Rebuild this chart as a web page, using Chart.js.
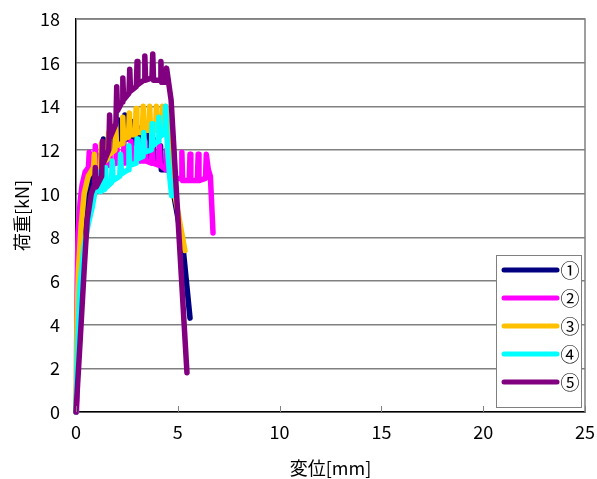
<!DOCTYPE html>
<html>
<head>
<meta charset="utf-8">
<script src="https://cdn.jsdelivr.net/npm/chart.js@4.4.1/dist/chart.umd.min.js"></script>
<style>
  html, body { margin: 0; padding: 0; background: #fff; }
  #wrap { width: 597px; height: 479px; position: relative; }
</style>
</head>
<body>
<div id="wrap"><canvas id="chart"></canvas></div>
<script>
// ---- data (displacement mm / load kN) ----
const seriesNames = ['①', '②', '③', '④', '⑤'];
const seriesColors = ['#000080', '#FF00FF', '#FFC000', '#00FFFF', '#800080'];

// ① navy
const disp1 = [0, 0.1, 0.2, 0.3, 0.45, 0.6, 0.8, 0.96,
  1.0, 1.04, 1.31, 1.35, 1.39, 1.66, 1.7, 1.74, 2.01, 2.05, 2.09, 2.36, 2.4, 2.44, 2.71, 2.75, 2.79, 3.06,
  3.1, 3.14, 3.41, 3.45, 3.49, 3.76, 3.8, 3.84, 4.11, 4.15, 4.19, 4.41, 4.45, 4.6, 5.25, 5.6];
const load1 = [0, 2.5, 5, 7, 8.8, 9.9, 10.7, 11.1,
  11.8, 10.9, 11.2, 12.5, 11.5, 11.8, 13.0, 12.0, 12.3, 13.4, 12.4, 12.6, 13.6, 12.5, 12.5, 13.3, 12.3, 12.3,
  13.0, 12.0, 12.0, 12.8, 11.7, 11.7, 12.5, 11.4, 11.4, 12.2, 11.1, 11.1, 11.5, 11.0, 7.6, 4.3];

// ② magenta
const disp2 = [0, 0.03, 0.06, 0.1, 0.2, 0.3, 0.45, 0.61,
  0.65, 0.69, 0.91, 0.95, 0.99, 1.26, 1.3, 1.34, 1.61, 1.65, 1.69, 1.96, 2.0, 2.04, 2.31, 2.35, 2.39, 2.66,
  2.7, 2.74, 3.01, 3.05, 3.09, 3.36, 3.4, 3.44, 3.71, 3.75, 3.79, 4.06, 4.1, 4.14, 4.41, 4.45, 4.49, 4.76,
  4.8, 4.84, 5.16, 5.2, 5.24, 5.56, 5.6, 5.64, 5.96, 6.0, 6.04, 6.36, 6.4, 6.5, 6.6, 6.73];
const load2 = [0, 3, 6, 8.2, 9.6, 10.4, 11.0, 11.2,
  11.9, 11.0, 11.2, 12.2, 11.2, 11.3, 12.2, 11.3, 11.3, 12.3, 11.3, 11.4, 12.3, 11.4, 11.4, 12.4, 11.4, 11.5,
  12.4, 11.5, 11.5, 12.4, 11.5, 11.5, 12.4, 11.5, 11.4, 12.3, 11.4, 11.3, 12.2, 11.3, 11.1, 12.0, 11.1, 10.8,
  11.9, 10.7, 10.7, 11.9, 10.6, 10.6, 11.8, 10.6, 10.6, 11.8, 10.6, 10.7, 11.8, 11.1, 10.8, 8.2];

// ③ orange
const disp3 = [0, 0.05, 0.12, 0.25, 0.4, 0.6, 0.86,
  0.9, 0.94, 1.21, 1.25, 1.29, 1.56, 1.6, 1.64, 1.91, 1.95, 1.99, 2.26, 2.3, 2.34, 2.58, 2.62, 2.66, 2.91,
  2.95, 2.99, 3.26, 3.3, 3.34, 3.58, 3.62, 3.66, 3.91, 3.95, 3.99, 4.21, 4.25, 4.29, 4.38, 4.42, 4.55, 4.65, 5.0, 5.35];
const load3 = [0, 4, 6.5, 8.5, 10.0, 10.8, 11.2,
  11.8, 10.9, 11.2, 12.3, 11.4, 11.6, 12.8, 11.8, 12.0, 13.2, 12.2, 12.3, 13.5, 12.5, 12.6, 13.7, 12.7, 12.7,
  13.9, 12.8, 12.8, 14.0, 12.9, 12.9, 14.0, 12.9, 12.9, 14.0, 12.9, 12.9, 14.0, 12.9, 13.0, 14.0, 12.5, 11.0, 9.2, 7.4];

// ④ cyan
const disp4 = [0, 0.08, 0.2, 0.4, 0.6, 0.8, 0.95, 1.11,
  1.15, 1.19, 1.41, 1.45, 1.49, 1.74, 1.78, 1.82, 2.15, 2.19, 2.23, 2.56, 2.6, 2.64, 2.96, 3.0, 3.04, 3.29,
  3.33, 3.37, 3.7, 3.74, 3.78, 4.03, 4.07, 4.11, 4.36, 4.4, 4.5, 4.6, 4.7];
const load4 = [0, 3, 5.8, 7.6, 8.6, 9.4, 10.2, 10.6,
  11.0, 10.1, 10.2, 11.2, 10.3, 10.5, 11.5, 10.6, 10.8, 11.8, 10.9, 11.1, 12.2, 11.3, 11.4, 12.5, 11.6, 11.7,
  12.8, 11.9, 12.0, 13.2, 12.2, 12.4, 13.5, 12.6, 12.8, 14.0, 12.0, 10.8, 9.9];

// ⑤ purple
const disp5 = [0, 0.2, 0.4, 0.55, 0.75, 0.91,
  0.95, 0.99, 1.26, 1.3, 1.34, 1.61, 1.65, 1.69, 1.96, 2.0, 2.04, 2.26, 2.3, 2.34, 2.6, 2.64, 2.68, 2.96,
  3.0, 3.04, 3.34, 3.38, 3.42, 3.73, 3.77, 3.81, 4.13, 4.17, 4.21, 4.41, 4.45, 4.67, 5.45];
const load5 = [0, 3.2, 6.5, 8.8, 10.0, 10.4,
  11.2, 10.3, 10.8, 12.4, 11.4, 12.0, 13.6, 12.6, 13.2, 14.9, 13.8, 14.2, 15.3, 14.3, 14.6, 15.7, 14.7, 14.9,
  16.05, 15.0, 15.2, 16.3, 15.2, 15.3, 16.4, 15.2, 15.2, 16.05, 15.1, 15.1, 15.75, 14.3, 1.8];

const xTicks = [0, 5, 10, 15, 20, 25];
const yTicks = [0, 2, 4, 6, 8, 10, 12, 14, 16, 18];

const allDisp = [disp1, disp2, disp3, disp4, disp5];
const allLoad = [load1, load2, load3, load4, load5];

const FONT = "'Noto Sans CJK JP', 'Noto Sans', sans-serif";

// plot frame + inner x ticks + legend box
const framePlugin = {
  id: 'frame',
  afterDraw(chart) {
    const { ctx, chartArea: a, scales } = chart;
    ctx.save();
    ctx.strokeStyle = '#808080';
    ctx.lineWidth = 1.5;
    ctx.beginPath();
    ctx.moveTo(a.left, a.top);
    ctx.lineTo(a.right, a.top);
    ctx.lineTo(a.right, a.bottom);
    ctx.stroke();
    // small inner tick marks on x axis
    ctx.lineWidth = 1;
    xTicks.forEach(v => {
      const px = Math.round(scales.x.getPixelForValue(v)) + 0.5;
      ctx.beginPath();
      ctx.moveTo(px, a.bottom);
      ctx.lineTo(px, a.bottom - 6);
      ctx.stroke();
    });

    // legend
    const lx = 496, ly = 255, lw = 85, lh = 152;
    ctx.fillStyle = '#fff';
    ctx.fillRect(lx, ly, lw, lh);
    ctx.strokeStyle = '#808080';
    ctx.lineWidth = 1;
    ctx.strokeRect(lx + 0.5, ly + 0.5, lw, lh);
    ctx.lineCap = 'round';
    ctx.font = '19px ' + FONT;
    ctx.textBaseline = 'middle';
    ctx.textAlign = 'center';
    seriesNames.forEach((name, i) => {
      const y = 270 + i * 28;
      ctx.strokeStyle = seriesColors[i];
      ctx.lineWidth = 5;
      ctx.beginPath();
      ctx.moveTo(504, y);
      ctx.lineTo(557, y);
      ctx.stroke();
      ctx.fillStyle = '#000';
      ctx.fillText(name, 570, y + 1);
    });
    ctx.restore();
  }
};

const datasets = seriesNames.map((name, i) => ({
  label: name,
  data: allDisp[i].map((d, j) => ({ x: d, y: allLoad[i][j] })),
  borderColor: seriesColors[i],
  backgroundColor: seriesColors[i],
  borderWidth: 5.5,
  pointRadius: 0,
  showLine: true,
  tension: 0,
  borderJoinStyle: 'round',
  borderCapStyle: 'round',
  clip: false,
  order: seriesNames.length - i
}));

new Chart(document.getElementById('chart'), {
  type: 'scatter',
  data: { datasets },
  options: {
    responsive: true,
    maintainAspectRatio: false,
    animation: false,
    events: [],
    layout: { padding: { left: 0, right: 12, top: 19, bottom: 0 } },
    plugins: { legend: { display: false }, tooltip: { enabled: false } },
    scales: {
      x: {
        type: 'linear',
        min: 0, max: 25,
        afterBuildTicks: s => { s.ticks = xTicks.map(v => ({ value: v })); },
        afterFit: s => { s.height = 67; s.paddingLeft = 0; s.paddingRight = 0; },
        grid: { display: false, drawTicks: false },
        border: { color: '#000', width: 1.5 },
        ticks: { color: '#000', font: { family: FONT, size: 18 }, padding: 9, maxRotation: 0 },
        title: { display: true, text: '変位[mm]', color: '#000', font: { family: FONT, size: 18 }, padding: { top: 0, bottom: 0 } }
      },
      y: {
        type: 'linear',
        min: 0, max: 18,
        afterBuildTicks: s => { s.ticks = yTicks.map(v => ({ value: v })); },
        afterFit: s => { s.width = 76; s.paddingTop = 0; s.paddingBottom = 0; },
        grid: { color: '#808080', lineWidth: 1.5, drawTicks: false },
        border: { color: '#000', width: 1.5 },
        ticks: { color: '#000', font: { family: FONT, size: 18 }, padding: 16 },
        title: { display: true, text: '荷重[kN]', color: '#000', font: { family: FONT, size: 18 }, padding: { top: 11, bottom: 0 } }
      }
    }
  },
  plugins: [framePlugin]
});
</script>
</body>
</html>
